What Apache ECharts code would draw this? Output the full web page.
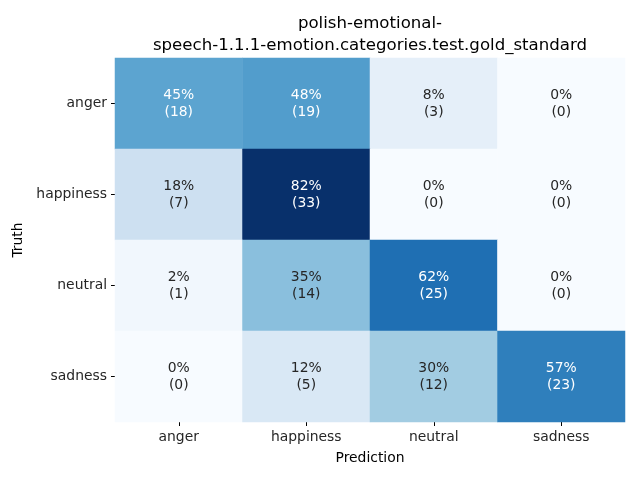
<!DOCTYPE html>
<html>
<head>
<meta charset="utf-8">
<script src="https://cdn.jsdelivr.net/npm/echarts@6/dist/echarts.min.js"></script>
<style>html,body{margin:0;padding:0;background:#fff;}#c{width:640px;height:480px;}</style>
</head>
<body>
<div id="c"></div>
<script>
const categories = ['anger', 'happiness', 'neutral', 'sadness'];
const titleLines = ['polish-emotional-', 'speech-1.1.1-emotion.categories.test.gold_standard'];
// rows = truth, columns = prediction
const counts = [
  [18, 19, 3, 0],
  [7, 33, 0, 0],
  [1, 14, 25, 0],
  [0, 5, 12, 23]
];
const percents = [
  [45, 48, 8, 0],
  [18, 82, 0, 0],
  [2, 35, 62, 0],
  [0, 12, 30, 57]
];
const blues = ['#f7fbff','#deebf7','#c6dbef','#9ecae1','#6baed6','#4292c6','#2171b5','#08519c','#08306b'];

let maxCount = 0;
counts.forEach(r => r.forEach(v => { if (v > maxCount) maxCount = v; }));
const data = [];
for (let i = 0; i < categories.length; i++) {
  for (let j = 0; j < categories.length; j++) {
    const v = counts[i][j];
    data.push({
      value: [j, i, v],
      label: { color: v / maxCount > 0.5 ? '#ffffff' : '#262626' },
      pct: percents[i][j]
    });
  }
}
const font = 'DejaVu Sans';
const chart = echarts.init(document.getElementById('c'), null, { renderer: 'canvas' });
chart.setOption({
  animation: false,
  backgroundColor: '#ffffff',
  title: {
    text: titleLines.join('\n'),
    left: 365, textAlign: 'center', top: 8,
    textStyle: { fontFamily: font, fontSize: 16.6, fontWeight: 'normal', color: '#000', lineHeight: 22 }
  },
  grid: { left: 115, right: 15, top: 58, bottom: 58 },
  xAxis: {
    type: 'category', data: categories, position: 'bottom',
    name: 'Prediction', nameLocation: 'middle', nameGap: 29,
    nameTextStyle: { fontFamily: font, fontSize: 13.9, color: '#000' },
    axisLine: { show: false },
    axisTick: { show: true, alignWithLabel: true, length: 4, lineStyle: { color: '#000' } },
    axisLabel: { fontFamily: font, fontSize: 13.9, color: '#262626', margin: 8 },
    splitLine: { show: false }
  },
  yAxis: {
    type: 'category', data: categories, inverse: true,
    name: 'Truth', nameLocation: 'middle', nameGap: 83, nameRotate: 90,
    nameTextStyle: { fontFamily: font, fontSize: 13.9, color: '#000' },
    axisLine: { show: false },
    axisTick: { show: true, alignWithLabel: true, length: 4, lineStyle: { color: '#000' } },
    axisLabel: { fontFamily: font, fontSize: 13.9, color: '#262626', margin: 8 },
    splitLine: { show: false }
  },
  visualMap: {
    show: false, min: 0, max: maxCount, dimension: 2,
    inRange: { color: blues }
  },
  series: [{
    type: 'heatmap',
    data: data,
    label: {
      show: true,
      fontFamily: font, fontSize: 13.9, lineHeight: 17,
      formatter: p => p.data.pct + '%\n(' + p.value[2] + ')'
    },
    itemStyle: { borderWidth: 0 },
    emphasis: { disabled: true }
  }]
});
</script>
</body>
</html>
